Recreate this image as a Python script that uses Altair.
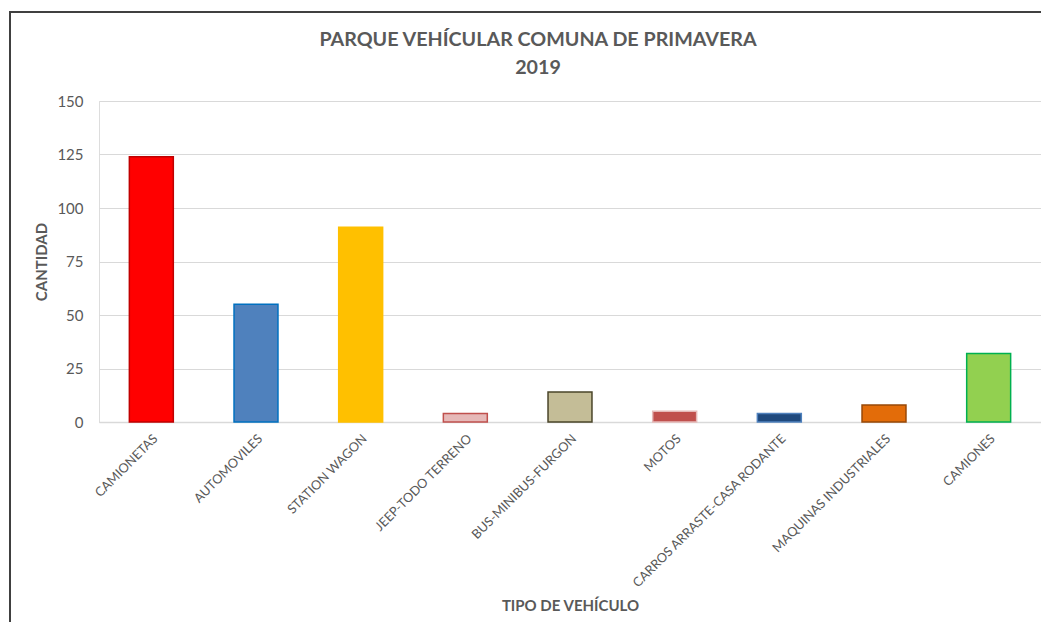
import altair as alt
import pandas as pd

categorias = ["CAMIONETAS", "AUTOMOVILES", "STATION WAGON", "JEEP-TODO TERRENO",
              "BUS-MINIBUS-FURGON", "MOTOS", "CARROS ARRASTE-CASA RODANTE",
              "MAQUINAS INDUSTRIALES", "CAMIONES"]
cantidad = [124, 55, 91, 4, 14, 5, 4, 8, 32]
relleno = ["#FF0000", "#4F81BD", "#FFC000", "#E6B9B8", "#C4BD97",
           "#C0504D", "#1F497D", "#E36C09", "#92D050"]
borde = ["#C00000", "#0070C0", "#FFC000", "#C0504D", "#4A452A",
         "#E6B9B8", "#4F81BD", "#984807", "#00B050"]

df = pd.DataFrame({"tipo": categorias, "cantidad": cantidad,
                   "relleno": relleno, "borde": borde})

W, H = 942, 321
FONT = "Lato"
GRAY = "#595959"

bars = alt.Chart(df).mark_bar(strokeWidth=1.5).encode(
    x=alt.X("tipo:N", sort=categorias, scale=alt.Scale(paddingInner=0.58, paddingOuter=0.29),
            axis=alt.Axis(title="TIPO DE VEHÍCULO", labelAngle=-45, labelFontSize=12.8,
                          labelColor=GRAY, labelFont=FONT, ticks=False, labelPadding=10,
                          labelLimit=400,
                          domainColor="#D9D9D9", domainWidth=1.5,
                          titleFont=FONT, titleFontSize=15, titleColor=GRAY,
                          titleFontWeight="bold", titleY=176, titleX=W / 2)),
    y=alt.Y("cantidad:Q", scale=alt.Scale(domain=[0, 150]),
            axis=alt.Axis(title="CANTIDAD", values=[0, 25, 50, 75, 100, 125, 150],
                          labelFontSize=15, labelColor=GRAY, labelFont=FONT,
                          ticks=False, domain=False, labelPadding=16,
                          gridColor="#D9D9D9", gridWidth=1,
                          titleFont=FONT, titleFontSize=15, titleColor=GRAY,
                          titleFontWeight="bold", titleX=-50, titleY=H / 2)),
    fill=alt.Fill("relleno:N", scale=None),
    stroke=alt.Stroke("borde:N", scale=None),
)

frame_df = alt.Data(values=[{"k": 1}])
top_line = alt.Chart(frame_df).mark_rule(color="#404040", strokeWidth=2, clip=False).encode(
    x=alt.value(-90), x2=alt.value(W + 30), y=alt.value(-89))
left_line = alt.Chart(frame_df).mark_rule(color="#404040", strokeWidth=2, clip=False).encode(
    x=alt.value(-89), y=alt.value(-90), y2=alt.value(H + 230))

chart = alt.layer(bars, top_line, left_line).properties(
    width=W, height=H,
    title=alt.TitleParams(["PARQUE VEHÍCULAR COMUNA DE PRIMAVERA", "2019"],
                          font=FONT, fontSize=19.7, fontWeight="bold", color=GRAY,
                          lineHeight=28, anchor="middle", frame="group", dx=-32,
                          offset=0, dy=68),
    padding={"left": 91, "top": 93, "right": 0, "bottom": 200},
    autosize=alt.AutoSizeParams(type="none"),
).configure_view(stroke=None).configure(background="white")

chart.save("out.html", embed_options={"renderer": "svg", "actions": False})
